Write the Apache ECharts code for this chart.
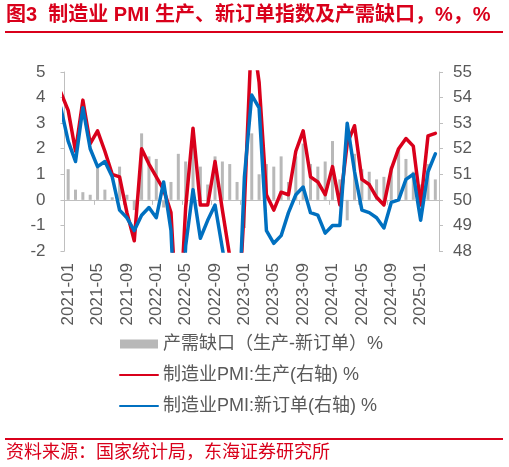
<!DOCTYPE html>
<html>
<head>
<meta charset="utf-8">
<script src="https://cdn.jsdelivr.net/npm/echarts@6/dist/echarts.min.js"></script>
<style>
html,body{margin:0;padding:0;background:#fff;}
#c{width:509px;height:467px;}
</style>
</head>
<body>
<div id="c"></div>
<script>
// Months shown on the category axis (2021-01 .. 2025-03)
const months = [
  '2021-01','2021-02','2021-03','2021-04','2021-05','2021-06','2021-07','2021-08','2021-09','2021-10','2021-11','2021-12',
  '2022-01','2022-02','2022-03','2022-04','2022-05','2022-06','2022-07','2022-08','2022-09','2022-10','2022-11','2022-12',
  '2023-01','2023-02','2023-03','2023-04','2023-05','2023-06','2023-07','2023-08','2023-09','2023-10','2023-11','2023-12',
  '2024-01','2024-02','2024-03','2024-04','2024-05','2024-06','2024-07','2024-08','2024-09','2024-10','2024-11','2024-12',
  '2025-01','2025-02','2025-03'
];
// 产需缺口 (生产 - 新订单), left axis, 2021-01 .. 2025-03
const gapVals = [
  1.2, 0.4, 0.3, 0.2, 1.4, 0.4, 0.1, 1.3, 0.2, -0.4, 2.6, 1.7,
  1.6, -0.3, 0.7, 1.8, 1.5, 2.4, 1.3, 0.6, 1.7, 1.5, 1.4, 0.7,
  -1.1, 2.6, 1.0, 1.4, 1.3, 1.7, 0.7, 1.7, 2.2, 1.4, 1.3, 1.5,
  2.3, 0.8, -0.8, 1.8, 1.2, 1.1, 0.8, 0.9, 1.3, 2.0, 1.6, 1.1,
  0.6, 1.4, 0.8
];
// Line series start one month earlier (2020-12), clipped at the plot edge
const lineStartOffset = -1;
const prodVals = [
  54.2,
  53.5, 51.9, 53.9, 52.2, 52.7, 51.9, 51.0, 50.9, 49.5, 48.4, 52.0, 51.4,
  50.9, 50.4, 49.5, 44.4, 49.7, 52.8, 49.8, 49.8, 51.5, 49.6, 47.8, 44.6,
  49.8, 56.7, 54.6, 50.2, 49.6, 50.3, 50.2, 51.9, 52.7, 50.9, 50.7, 50.2,
  51.3, 49.8, 52.2, 52.9, 50.8, 50.6, 50.1, 49.8, 51.2, 52.0, 52.4, 52.1,
  49.8, 52.5, 52.6
];
const ordVals = [
  53.6,
  52.3, 51.5, 53.6, 52.0, 51.3, 51.5, 50.9, 49.6, 49.3, 48.8, 49.4, 49.7,
  49.3, 50.7, 48.8, 42.6, 48.2, 50.4, 48.5, 49.2, 49.8, 48.1, 46.4, 43.9,
  50.9, 54.1, 53.6, 48.8, 48.3, 48.6, 49.5, 50.2, 50.5, 49.5, 49.4, 48.7,
  49.0, 49.0, 53.0, 51.1, 49.6, 49.5, 49.3, 48.9, 49.9, 50.0, 50.8, 51.0,
  49.2, 51.1, 51.8
];
const seriesNames = ['产需缺口（生产-新订单）%', '制造业PMI:生产(右轴) %', '制造业PMI:新订单(右轴) %'];
const titleText = '图3  制造业 PMI 生产、新订单指数及产需缺口，%，%';
const sourceText = '资料来源：国家统计局，东海证券研究所';

const FONT = '"Liberation Sans", Arial, "Noto Sans CJK SC", sans-serif';
const RED = '#d9001b';
const BLUE = '#0070c0';
const GRAY = '#b8b8b8';
const AXIS = '#bfbfbf';
const TXT = '#595959';

const toPairs = arr => arr.map((v, i) => [i + lineStartOffset, v]);

const chart = echarts.init(document.getElementById('c'), null, {renderer: 'canvas'});
chart.setOption({
  animation: false,
  backgroundColor: '#fff',
  textStyle: {fontFamily: FONT},
  grid: {left: 64.5, right: 70, top: 72, bottom: 216, containLabel: false},
  legend: {
    orient: 'vertical',
    left: 114,
    top: 330,
    itemGap: 13,
    itemWidth: 38,
    itemHeight: 9,
    textStyle: {fontSize: 18, color: TXT, fontFamily: FONT, lineHeight: 18},
    data: [
      {name: seriesNames[0], icon: 'rect'},
      {name: seriesNames[1], itemStyle: {opacity: 0, borderWidth: 0}},
      {name: seriesNames[2], itemStyle: {opacity: 0, borderWidth: 0}}
    ]
  },
  xAxis: [
    {
      type: 'category', data: months, position: 'bottom', boundaryGap: true,
      axisLine: {show: false, onZero: false}, axisTick: {show: false}, splitLine: {show: false},
      axisLabel: {interval: 3, rotate: 90, fontSize: 17, color: TXT, margin: 12, fontFamily: FONT}
    },
    {
      type: 'category', data: months, position: 'bottom', boundaryGap: true,
      axisLine: {show: true, onZero: true, onZeroAxisIndex: 0, lineStyle: {color: AXIS, width: 1}},
      axisTick: {show: true, interval: 3, length: 5, lineStyle: {color: AXIS}},
      axisLabel: {show: false}, splitLine: {show: false}
    },
    {
      type: 'value', min: -0.5, max: 50.5, show: false, position: 'bottom',
      axisLine: {onZero: false}, splitLine: {show: false}
    }
  ],
  yAxis: [
    {
      type: 'value', position: 'left', min: -2, max: 5, interval: 1,
      axisLine: {show: true, onZero: false, lineStyle: {color: AXIS}},
      axisTick: {show: true, length: 4, lineStyle: {color: AXIS}},
      axisLabel: {fontSize: 17, color: TXT, margin: 19, fontFamily: FONT},
      splitLine: {show: false}
    },
    {
      type: 'value', position: 'right', min: 48, max: 55, interval: 1,
      axisLine: {show: true, onZero: false, lineStyle: {color: AXIS}},
      axisTick: {show: true, length: 4, lineStyle: {color: AXIS}},
      axisLabel: {fontSize: 17, color: TXT, margin: 14, fontFamily: FONT},
      splitLine: {show: false}
    }
  ],
  series: [
    {
      name: seriesNames[0], type: 'bar', xAxisIndex: 0, yAxisIndex: 0,
      data: gapVals, barWidth: 3, itemStyle: {color: GRAY}, z: 1
    },
    {
      name: seriesNames[1], type: 'line', xAxisIndex: 2, yAxisIndex: 1,
      data: toPairs(prodVals), symbol: 'none', clip: true, z: 3,
      lineStyle: {color: RED, width: 3.5, cap: 'round', join: 'round'}, itemStyle: {color: RED}
    },
    {
      name: seriesNames[2], type: 'line', xAxisIndex: 2, yAxisIndex: 1,
      data: toPairs(ordVals), symbol: 'none', clip: true, z: 4,
      lineStyle: {color: BLUE, width: 3.5, cap: 'round', join: 'round'}, itemStyle: {color: BLUE}
    }
  ],
  graphic: [
    {
      type: 'text', left: 6, top: 5,
      style: {text: titleText, fill: RED, font: 'bold 20px ' + FONT}
    },
    {
      type: 'line', shape: {x1: 5, y1: 32, x2: 503, y2: 32},
      style: {stroke: RED, lineWidth: 2}
    },
    {
      type: 'line', shape: {x1: 5, y1: 439, x2: 503, y2: 439},
      style: {stroke: RED, lineWidth: 2}
    },
    {
      type: 'text', left: 6, top: 444,
      style: {text: sourceText, fill: RED, font: '18px ' + FONT}
    }
  ]
});
</script>
</body>
</html>
